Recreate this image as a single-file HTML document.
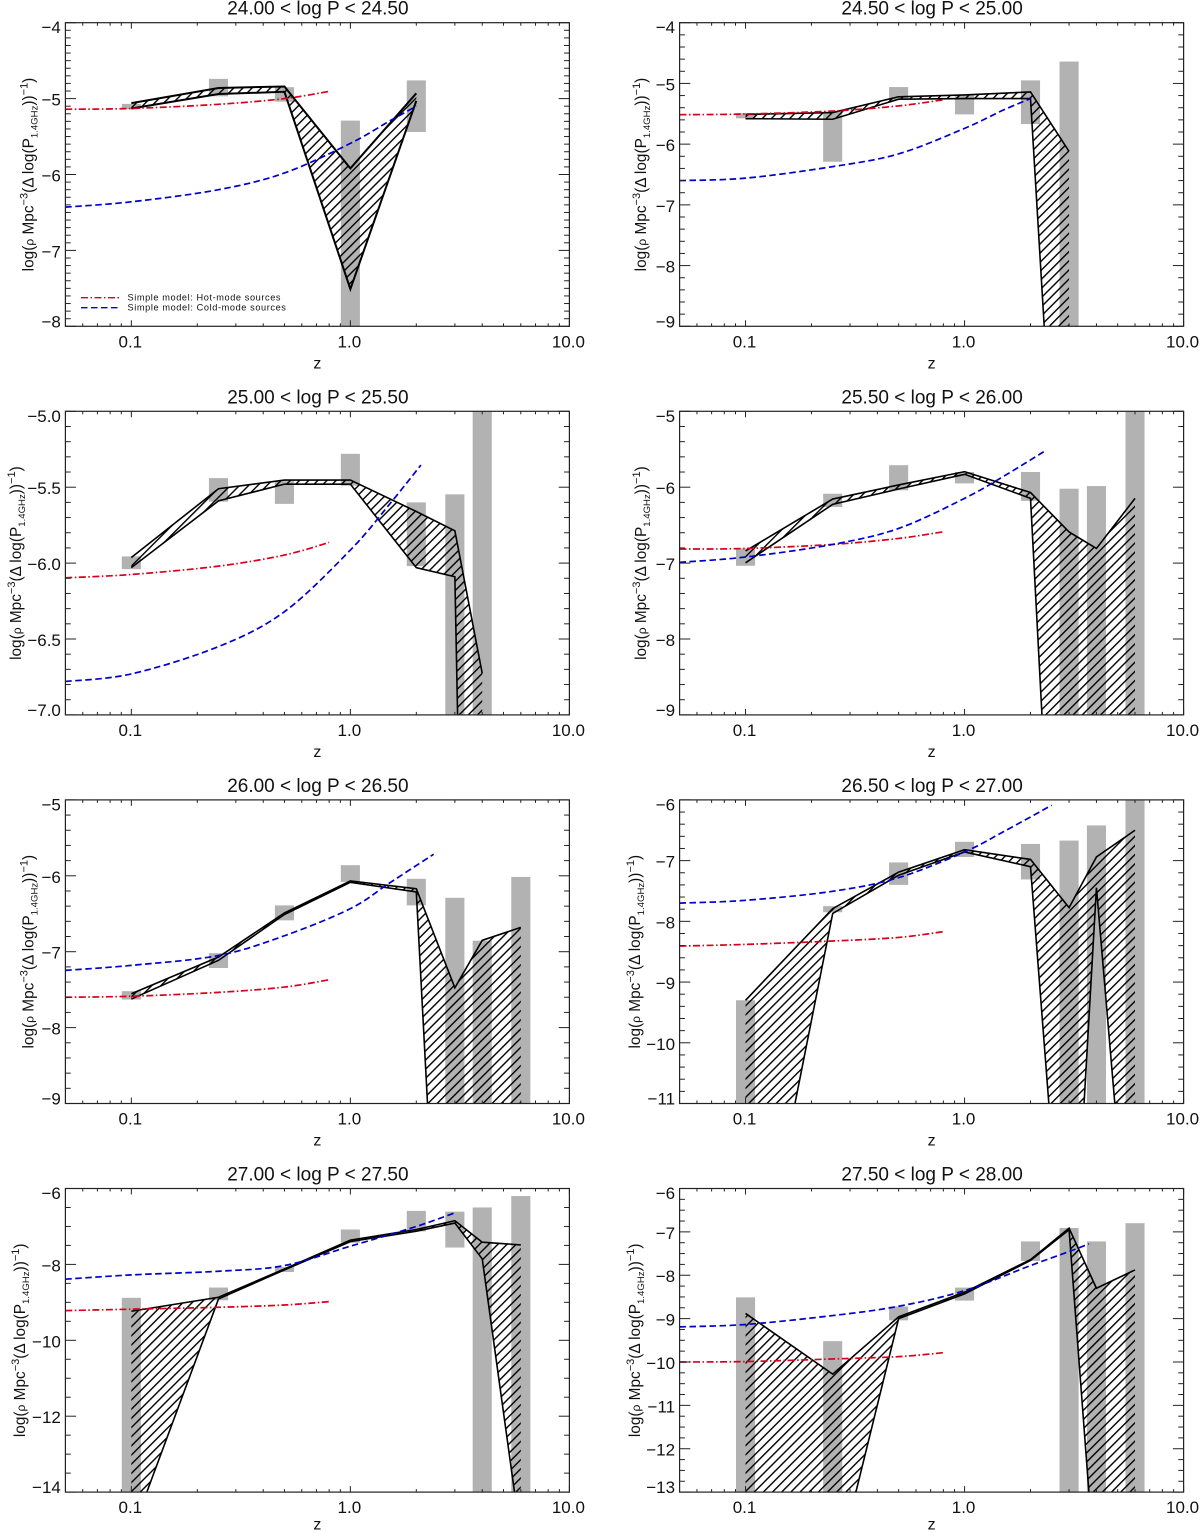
<!DOCTYPE html>
<html lang="en">
<head>
<meta charset="utf-8">
<title>Radio luminosity density panels</title>
<style>
html,body{margin:0;padding:0;background:#fff;overflow:hidden}
svg{display:block}
text{font-family:"Liberation Sans",sans-serif;fill:#111}
</style>
</head>
<body>
<svg id="figure" xmlns="http://www.w3.org/2000/svg" width="1200" height="1533" viewBox="0 0 1200 1533">
<defs>
<pattern id="hatch" patternUnits="userSpaceOnUse" width="9" height="9" patternTransform="rotate(-45) scale(0.72)">
<rect x="0" y="0" width="9" height="1.95" fill="#000"></rect>
</pattern>
</defs>
</svg>
<script>
const panelTitles = ["24.00 < log P < 24.50","24.50 < log P < 25.00","25.00 < log P < 25.50","25.50 < log P < 26.00","26.00 < log P < 26.50","26.50 < log P < 27.00","27.00 < log P < 27.50","27.50 < log P < 28.00"];
const yAxisMin = [-8,-9,-7,-9,-9,-11,-14,-13];
const yAxisMax = [-4,-4,-5,-5,-5,-6,-6,-6];
const yMajorStep = [1,1,0.5,1,1,1,2,1];
const yMinorDivisions = [10,5,5,5,5,5,4,4];
const yTickDecimals = [0,0,1,0,0,0,0,0];
const xMajorTicks = [0.1,1,10];
const xTickLabels = ["0.1","1.0","10.0"];
const xMinorTicks = [0.06,0.07,0.08,0.09,0.2,0.3,0.4,0.5,0.6,0.7,0.8,0.9,2,3,4,5,6,7,8,9];
const redshifts = [0.1,0.25,0.5,1,2,3,4,6];

const barTop = [
[-5.07,-4.74,-4.85,-5.29,-4.76],
[-5.49,-5.465,-5.06,-5.19,-4.95,-4.64],
[-5.956,-5.44,-5.46,-5.28,-5.6,-5.547,-4.9],
[-6.807,-6.086,-5.71,-5.80,-5.80,-6.02,-5.985,-4.9],
[-7.52,-7.02,-6.39,-5.86,-6.04,-6.29,-6.855,-6.015],
[-9.30,-7.75,-7.03,-6.69,-6.725,-6.67,-6.42,-5.9],
[-8.88,-8.61,-8.07,-7.08,-6.59,-6.61,-6.5,-6.2],
[-8.51,-9.52,-8.72,-8.285,-7.22,-6.91,-7.22,-6.8]
];
const barBottom = [
[-5.14,-4.97,-5.04,-8.1,-5.44],
[-5.575,-6.29,-5.27,-5.51,-5.67,-9.1],
[-6.04,-5.595,-5.61,-5.49,-6.02,-7.05,-7.05],
[-7.035,-6.26,-6.04,-5.95,-6.18,-9.05,-9.05,-9.05],
[-7.63,-7.215,-6.587,-6.08,-6.39,-9.05,-9.05,-9.05],
[-11.1,-7.85,-7.40,-6.94,-7.31,-11.1,-11.1,-11.1],
[-14.1,-8.945,-8.2,-7.43,-7.13,-7.556,-14.1,-14.1],
[-13.1,-13.1,-9.04,-8.585,-7.67,-13.1,-13.1,-13.1]
];
const upperBound = [
[-5.06,-4.86,-4.84,-5.92,-4.93],
[-5.51,-5.48,-5.22,-5.19,-5.14,-6.12],
[-5.963,-5.51,-5.453,-5.453,-5.66,-5.787,-6.727],
[-6.84,-6.156,-5.97,-5.795,-6.07,-6.59,-6.807,-6.147],
[-7.554,-7.07,-6.49,-6.068,-6.17,-7.475,-6.85,-6.68],
[-9.30,-7.79,-7.19,-6.82,-6.98,-7.775,-6.94,-6.5],
[-9.235,-8.866,-8.12,-7.36,-7.08,-6.85,-7.415,-7.486],
[-8.88,-10.28,-8.96,-8.39,-7.64,-6.915,-8.3,-7.877]
];
const lowerBound = [
[-5.13,-4.94,-4.91,-7.51,-5.03],
[-5.58,-5.59,-5.26,-5.25,-5.25,-15.8],
[-6.03,-5.59,-5.48,-5.48,-6.03,-6.09,-15.3],
[-6.996,-6.226,-6.024,-5.83,-6.147,-15.75,-16,-16],
[-7.624,-7.114,-6.51,-6.086,-6.213,-15.8,-16,-16],
[-15.1,-7.87,-7.24,-6.857,-7.10,-15.3,-7.445,-14.9],
[-15.1,-8.91,-8.145,-7.40,-7.125,-6.91,-7.855,-15.2],
[-15.2,-15.17,-9.0,-8.43,-7.66,-6.95,-15.3,-15.3]
];

const hotModelZ = [0.05,0.1,0.25,0.5,0.8];
const hotModelValues = [
[-5.14,-5.13,-5.075,-5.0,-4.905],
[-5.515,-5.504,-5.455,-5.37,-5.27],
[-6.097,-6.075,-6.02,-5.947,-5.864],
[-6.815,-6.807,-6.754,-6.675,-6.587],
[-7.60,-7.587,-7.536,-7.466,-7.37],
[-8.407,-8.38,-8.324,-8.265,-8.17],
[-9.218,-9.18,-9.13,-9.07,-8.98],
[-10.0,-9.99,-9.93,-9.877,-9.785]
];
const coldModelZ = [
[0.05,0.1,0.25,0.5,1,1.5,2],
[0.05,0.1,0.25,0.5,1,1.5,2],
[0.05,0.1,0.25,0.5,1,1.5,2.1],
[0.05,0.1,0.25,0.5,1,1.5,2.3],
[0.05,0.1,0.25,0.5,1,1.5,2.4],
[0.05,0.1,0.25,0.5,1,1.5,2.5],
[0.05,0.1,0.25,0.5,1,2,3],
[0.05,0.1,0.25,0.5,1,2,3,3.7]
];
const coldModelValues = [
[-6.43,-6.36,-6.2,-5.98,-5.59,-5.3,-5.1],
[-6.60,-6.56,-6.37,-6.16,-5.74,-5.44,-5.25],
[-6.78,-6.73,-6.55,-6.32,-5.914,-5.617,-5.354],
[-6.99,-6.92,-6.754,-6.543,-6.147,-5.86,-5.532],
[-7.246,-7.18,-7.05,-6.79,-6.433,-6.10,-5.716],
[-7.70,-7.654,-7.505,-7.28,-6.857,-6.527,-6.088],
[-8.39,-8.277,-8.18,-8.03,-7.52,-7.0,-6.64],
[-9.19,-9.135,-8.93,-8.715,-8.354,-7.777,-7.454,-7.277]
];
const legendLabels = ["Simple model: Hot-mode sources","Simple model: Cold-mode sources"];
const yTitleParts = [["log(","n"],["ρ","rho"],[" Mpc","n"],["−3","sup"],["(Δ log(P","n"],["1.4GHz","sub"],["))","n"],["−1","sup"],[")","n"]];

const svgNS = "http://www.w3.org/2000/svg";
const figure = document.getElementById("figure");
const X_MIN = Math.log10(0.05), X_MAX = 1;
const BAR_HALF_DEX = 0.0436;

function add(parent, tag, attrs, text) {
  const el = document.createElementNS(svgNS, tag);
  for (const k in attrs) el.setAttribute(k, attrs[k]);
  if (text !== undefined) el.textContent = text;
  parent.appendChild(el);
  return el;
}
function pts(list) {
  return list.map(p => p[0].toFixed(2) + "," + p[1].toFixed(2)).join(" ");
}
function crossAt(a, b, yLimit) {
  const t = (yLimit - a[1]) / (b[1] - a[1]);
  return [a[0] + t * (b[0] - a[0]), yLimit];
}
function clipPolygonBelow(p, yLimit) {
  const out = [];
  for (let i = 0; i < p.length; i++) {
    const a = p[i], b = p[(i + 1) % p.length];
    const aIn = a[1] <= yLimit, bIn = b[1] <= yLimit;
    if (aIn) out.push(a);
    if (aIn !== bIn) out.push(crossAt(a, b, yLimit));
  }
  return out;
}
function clipLineBelow(p, yLimit) {
  let d = "", open = false;
  for (let i = 0; i < p.length - 1; i++) {
    const a = p[i], b = p[i + 1];
    const aIn = a[1] <= yLimit, bIn = b[1] <= yLimit;
    if (!aIn && !bIn) { open = false; continue; }
    const s = aIn ? a : crossAt(a, b, yLimit);
    const e = bIn ? b : crossAt(a, b, yLimit);
    if (!open) d += "M" + s[0].toFixed(2) + " " + s[1].toFixed(2) + " ";
    d += "L" + e[0].toFixed(2) + " " + e[1].toFixed(2) + " ";
    open = bIn;
  }
  return d;
}
function smoothPath(p) {
  let d = "M" + p[0][0].toFixed(2) + " " + p[0][1].toFixed(2);
  for (let i = 0; i < p.length - 1; i++) {
    const a = p[Math.max(i - 1, 0)], b = p[i], c = p[i + 1], e = p[Math.min(i + 2, p.length - 1)];
    const c1x = b[0] + (c[0] - a[0]) / 6, c1y = b[1] + (c[1] - a[1]) / 6;
    const c2x = c[0] - (e[0] - b[0]) / 6, c2y = c[1] - (e[1] - b[1]) / 6;
    d += " C" + [c1x, c1y, c2x, c2y, c[0], c[1]].map(v => v.toFixed(2)).join(" ");
  }
  return d;
}

function drawPanel(i) {
  const col = i % 2, row = Math.floor(i / 2);
  const left = 65.4 + col * 614.2, width = 504;
  const top = 22.7 + row * 388.6, height = 303.6;
  const right = left + width, bottom = top + height;
  const sx = z => left + (Math.log10(z) - X_MIN) / (X_MAX - X_MIN) * width;
  const sy = v => top + (yAxisMax[i] - v) / (yAxisMax[i] - yAxisMin[i]) * height;

  const g = add(figure, "g", {});
  
  

  const clip = add(figure.querySelector("defs"), "clipPath", { id: "clip" + i });
  add(clip, "rect", { x: left, y: top, width: width, height: height });
  const plot = add(g, "g", { "clip-path": "url(#clip" + i + ")" });
  
  

  const n = barTop[i].length;
  for (let k = 0; k < n; k++) {
    const lz = Math.log10(redshifts[k]);
    const x0 = sx(Math.pow(10, lz - BAR_HALF_DEX)), x1 = sx(Math.pow(10, lz + BAR_HALF_DEX));
    const by0 = Math.max(sy(barTop[i][k]), top), by1 = Math.min(sy(barBottom[i][k]), bottom);
    const bar = add(plot, "rect", { x: x0, y: by0, width: x1 - x0, height: by1 - by0, fill: "#b2b2b2" });
    
    
  }

  const up = upperBound[i].map((v, k) => [sx(redshifts[k]), sy(v)]);
  const lo = lowerBound[i].map((v, k) => [sx(redshifts[k]), sy(v)]);
  const hatch = add(plot, "polygon", { points: pts(clipPolygonBelow(up.concat(lo.slice().reverse()), bottom)), fill: "url(#hatch)" });
  
  
  const lw = i === 0 ? 2 : 1.6;
  const upLine = add(plot, "path", { d: clipLineBelow(up, bottom), fill: "none", stroke: "#000", "stroke-width": lw, "stroke-linejoin": "miter" });
  
  
  const loLine = add(plot, "path", { d: clipLineBelow(lo, bottom), fill: "none", stroke: "#000", "stroke-width": lw, "stroke-linejoin": "miter" });
  
  

  const hot = add(plot, "path", { d: smoothPath(hotModelZ.map((z, k) => [sx(z), sy(hotModelValues[i][k])])), fill: "none", stroke: "#d8001c", "stroke-width": 1.7, "stroke-dasharray": "7 2.5 1.5 2.5" });
  
  
  const cold = add(plot, "path", { d: smoothPath(coldModelZ[i].map((z, k) => [sx(z), sy(coldModelValues[i][k])])), fill: "none", stroke: "#0000cc", "stroke-width": 1.7, "stroke-dasharray": "6.5 3.5" });
  
  

  const frame = add(g, "rect", { x: left, y: top, width: width, height: height, fill: "none", stroke: "#222", "stroke-width": 1.2 });
  
  

  // x axis
  const tickStyle = { stroke: "#222", "stroke-width": 1 };
  const xAxis = add(g, "g", tickStyle);
  
  
  xMinorTicks.forEach(z => {
    add(xAxis, "line", { x1: sx(z), x2: sx(z), y1: bottom, y2: bottom - 3 });
    add(xAxis, "line", { x1: sx(z), x2: sx(z), y1: top, y2: top + 3 });
  });
  xMajorTicks.forEach((z, k) => {
    add(xAxis, "line", { x1: sx(z), x2: sx(z), y1: bottom, y2: bottom - 6 });
    add(xAxis, "line", { x1: sx(z), x2: sx(z), y1: top, y2: top + 6 });
    const lab = add(g, "text", { x: sx(z) - 1, y: bottom + 21, "text-anchor": "middle", "font-size": 17 }, xTickLabels[k]);
    
    
  });

  // y axis
  const yAxis = add(g, "g", tickStyle);
  
  
  const majors = Math.round((yAxisMax[i] - yAxisMin[i]) / yMajorStep[i]);
  const minors = majors * yMinorDivisions[i];
  for (let k = 0; k <= minors; k++) {
    const v = yAxisMin[i] + k * (yAxisMax[i] - yAxisMin[i]) / minors;
    const len = k % yMinorDivisions[i] === 0 ? 10.7 : 5.3;
    add(yAxis, "line", { x1: left, x2: left + len, y1: sy(v), y2: sy(v) });
    add(yAxis, "line", { x1: right, x2: right - len, y1: sy(v), y2: sy(v) });
  }
  for (let k = 0; k <= majors; k++) {
    const v = yAxisMin[i] + k * yMajorStep[i];
    const off = k === 0 ? 1 : (k === majors ? 10.5 : 7);
    const txt = "−" + Math.abs(v).toFixed(yTickDecimals[i]);
    const lab = add(g, "text", { x: left - 4.5, y: sy(v) + off, "text-anchor": "end", "font-size": 17 }, txt);
    
    
  }

  // titles
  const title = add(g, "text", { x: left + width / 2 + 0.5, y: top - 8, "text-anchor": "middle", "font-size": 19 }, panelTitles[i]);
  
  
  const xTitle = add(g, "text", { x: left + width / 2, y: Math.min(bottom + 42, 1529.5), "text-anchor": "middle", "font-size": 16 }, "z");
  
  

  const titleGap = [32, 33.6, 44.4, 33.6, 32, 39.6, 40.4, 39.6][i];
  const tx = left - titleGap, ty = top + height / 2;
  const yTitle = add(g, "text", { transform: "translate(" + tx + " " + ty + ") rotate(-90)", "text-anchor": "middle", "font-size": 15.4 });
  
  
  let shift = 0;
  yTitleParts.forEach(part => {
    const target = part[1] === "sup" ? -6 : (part[1] === "sub" ? 4 : 0);
    const attrs = { dy: target - shift };
    if (part[1] === "sup") attrs["font-size"] = 11;
    if (part[1] === "sub") attrs["font-size"] = 9.6;
    if (part[1] === "rho") attrs["font-size"] = 12;
    add(yTitle, "tspan", attrs, part[0]);
    shift = target;
  });
}

for (let i = 0; i < panelTitles.length; i++) drawPanel(i);

// legend in the first panel
const legend = add(figure, "g", {});


const legendStyles = [["#d8001c", "7 2.5 1.5 2.5"], ["#0000cc", "6.5 3.5"]];
legendLabels.forEach((label, k) => {
  const y = 297.7 + k * 10;
  const key = add(legend, "line", { x1: 81, x2: 119, y1: y, y2: y, stroke: legendStyles[k][0], "stroke-width": 1.4, "stroke-dasharray": legendStyles[k][1] });
  
  
  const text = add(legend, "text", { x: 127.5, y: y + 3, "font-size": 9.2, textLength: k === 0 ? 153 : 158.4, fill: "#222" }, label);
  
  
});
</script>
</body>
</html>
